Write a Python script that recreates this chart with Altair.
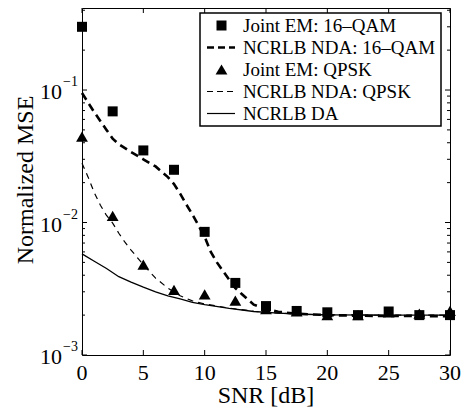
import altair as alt
import pandas as pd

FONT = "Liberation Serif, Times New Roman, serif"

# ---- data ----
snr_markers = [0, 2.5, 5, 7.5, 10, 12.5, 15, 17.5, 20, 22.5, 25, 27.5, 30]
em_16qam = [0.30, 0.069, 0.035, 0.025, 0.0085, 0.0035, 0.00234, 0.00215, 0.0021, 0.002, 0.00213, 0.002, 0.002]
em_qpsk = [0.0445, 0.0112, 0.0048, 0.0031, 0.00287, 0.00257, 0.00222, 0.00213, 0.002, 0.002, 0.0021, 0.00205, 0.00215]

snr_nda16 = [0, 1, 2, 2.5, 3, 4, 5, 6, 7, 7.5, 8, 8.5, 9, 9.5, 10, 10.5, 11, 11.5, 12, 12.5, 13, 14, 15, 16, 17.5, 20, 22.5, 25, 27.5, 30]
nda_16qam = [0.095, 0.068, 0.050, 0.043, 0.039, 0.034, 0.030, 0.0265, 0.022, 0.0195, 0.0165, 0.0137, 0.0115, 0.0095, 0.0078,
             0.0060, 0.0050, 0.0043, 0.0037, 0.0032, 0.0029, 0.0024, 0.00222, 0.00212, 0.00205, 0.0020, 0.00198, 0.00197, 0.00197, 0.00196]

snr_ndaq = [0, 0.5, 1, 1.5, 2, 2.5, 3, 3.5, 4, 5, 6, 7, 8, 9, 10, 12, 14, 16, 18, 20, 25, 30]
nda_qpsk = [0.028, 0.022, 0.0168, 0.0135, 0.0113, 0.0099, 0.0083, 0.0071, 0.0062, 0.0048, 0.0038, 0.0032, 0.0028, 0.00256,
            0.00243, 0.00226, 0.00214, 0.00207, 0.00203, 0.00201, 0.002, 0.002]

snr_da = [0, 1, 2, 3, 4, 5, 6, 7, 8, 9, 10, 12, 14, 16, 18, 20, 25, 30]
da = [0.0058, 0.0051, 0.0045, 0.0039, 0.00355, 0.00325, 0.0030, 0.0028, 0.00265, 0.0025, 0.0024, 0.00225, 0.00213,
      0.00207, 0.00203, 0.00201, 0.0020, 0.0020]

x_ticks = [0, 5, 10, 15, 20, 25, 30]
x_tick_labels = ["0", "5", "10", "15", "20", "25", "30"]
y_major = [0.001, 0.01, 0.1]
y_exp = ["\u22123", "\u22122", "\u22121"]
y_minor = [2e-3, 3e-3, 4e-3, 5e-3, 6e-3, 7e-3, 8e-3, 9e-3,
           2e-2, 3e-2, 4e-2, 5e-2, 6e-2, 7e-2, 8e-2, 9e-2,
           2e-1, 3e-1, 4e-1]

legend_labels = ["Joint EM: 16\u2013QAM", "NCRLB NDA: 16\u2013QAM", "Joint EM: QPSK", "NCRLB NDA: QPSK", "NCRLB DA"]

W, H = 368, 347
xs = alt.Scale(domain=[0, 30], nice=False)
ys = alt.Scale(type="log", domain=[0.001, 0.416], nice=False)

def X(f="x"):
    return alt.X(f"{f}:Q", scale=xs, axis=None)

def Y(f="y"):
    return alt.Y(f"{f}:Q", scale=ys, axis=None)

df_m16 = pd.DataFrame({"x": snr_markers, "y": em_16qam})
df_mq = pd.DataFrame({"x": snr_markers, "y": em_qpsk})
df_n16 = pd.DataFrame({"x": snr_nda16, "y": nda_16qam})
df_nq = pd.DataFrame({"x": snr_ndaq, "y": nda_qpsk})
df_da = pd.DataFrame({"x": snr_da, "y": da})

line_n16 = alt.Chart(df_n16).mark_line(color="black", strokeWidth=2.6, strokeDash=[8, 5]).encode(x=X(), y=Y())
line_nq = alt.Chart(df_nq).mark_line(color="black", strokeWidth=1.2, strokeDash=[6, 5]).encode(x=X(), y=Y())
line_da = alt.Chart(df_da).mark_line(color="black", strokeWidth=1.3).encode(x=X(), y=Y())

pts_16 = alt.Chart(df_m16).mark_point(shape="square", filled=True, color="black", size=100, opacity=1).encode(x=X(), y=Y())
pts_q = alt.Chart(df_mq).mark_point(shape="triangle-up", filled=True, color="black", size=140, opacity=1).encode(x=X(), y=Y())

# inside ticks
df_major = pd.DataFrame({"y": y_major, "e": y_exp})
df_minor = pd.DataFrame({"y": y_minor})
df_xt = pd.DataFrame({"x": x_ticks, "t": x_tick_labels})
ticks = [
    alt.Chart(df_major).mark_rule(color="black", strokeWidth=1).encode(y=Y(), x=alt.value(0), x2=alt.value(5)),
    alt.Chart(df_major).mark_rule(color="black", strokeWidth=1).encode(y=Y(), x=alt.value(W), x2=alt.value(W - 5)),
    alt.Chart(df_minor).mark_rule(color="black", strokeWidth=1).encode(y=Y(), x=alt.value(0), x2=alt.value(3)),
    alt.Chart(df_minor).mark_rule(color="black", strokeWidth=1).encode(y=Y(), x=alt.value(W), x2=alt.value(W - 3)),
    alt.Chart(df_xt).mark_rule(color="black", strokeWidth=1).encode(x=X(), y=alt.value(H), y2=alt.value(H - 5)),
    alt.Chart(df_xt).mark_rule(color="black", strokeWidth=1).encode(x=X(), y=alt.value(0), y2=alt.value(5)),
]

# tick labels
xlab = alt.Chart(df_xt).mark_text(font=FONT, fontSize=22, align="center", baseline="alphabetic",
                                  color="black").encode(x=X(), y=alt.value(H + 25), text="t:N")
lab10 = alt.Chart(df_major).mark_text(font=FONT, fontSize=22, align="right", baseline="middle", dy=2,
                                      color="black").encode(y=Y(), x=alt.value(-20), text=alt.value("10"))
labexp = alt.Chart(df_major).mark_text(font=FONT, fontSize=14, align="left", baseline="alphabetic", dy=-4,
                                       color="black").encode(y=Y(), x=alt.value(-19), text="e:N")

one = pd.DataFrame({"a": [0]})
ytitle = alt.Chart(one).mark_text(font=FONT, fontSize=24, angle=270, align="center", baseline="alphabetic",
                                  color="black").encode(x=alt.value(-49), y=alt.value(172),
                                                        text=alt.value("Normalized MSE"))
xtitle = alt.Chart(one).mark_text(font=FONT, fontSize=24, align="center", baseline="alphabetic",
                                  color="black").encode(x=alt.value(W / 2), y=alt.value(395),
                                                        text=alt.value("SNR [dB]"))

# legend
LX0, LX1, LY0, LY1 = 118, 359, 5, 118
rows = [17.5, 39.5, 61.5, 83.5, 105.5]
leg = [alt.Chart(one).mark_rect(fill="white", stroke="black", strokeWidth=1.5).encode(
    x=alt.value(LX0), x2=alt.value(LX1), y=alt.value(LY0), y2=alt.value(LY1))]
leg.append(alt.Chart(one).mark_point(shape="square", filled=True, color="black", size=100, opacity=1).encode(
    x=alt.value(139.5), y=alt.value(rows[0])))
leg.append(alt.Chart(one).mark_rule(color="black", strokeWidth=2.6, strokeDash=[7, 4]).encode(
    x=alt.value(125), x2=alt.value(153), y=alt.value(rows[1])))
leg.append(alt.Chart(one).mark_point(shape="triangle-up", filled=True, color="black", size=140, opacity=1).encode(
    x=alt.value(139.5), y=alt.value(rows[2])))
leg.append(alt.Chart(one).mark_rule(color="black", strokeWidth=1.2, strokeDash=[6, 4]).encode(
    x=alt.value(125), x2=alt.value(153), y=alt.value(rows[3])))
leg.append(alt.Chart(one).mark_rule(color="black", strokeWidth=1.2).encode(
    x=alt.value(125), x2=alt.value(153), y=alt.value(rows[4])))
for r, t in zip(rows, legend_labels):
    leg.append(alt.Chart(one).mark_text(font=FONT, fontSize=19, align="left", baseline="middle", color="black").encode(
        x=alt.value(161), y=alt.value(r), text=alt.value(t)))

chart = alt.layer(
    line_n16, line_nq, line_da, pts_16, pts_q, *ticks, xlab, lab10, labexp, ytitle, xtitle, *leg
).properties(
    width=W, height=H,
    autosize=alt.AutoSizeParams(type="none"),
    padding={"left": 74, "top": 0, "right": 13, "bottom": 55},
    background="white",
).configure_view(stroke="black", strokeWidth=1)

chart.save("out.html", embed_options={"renderer": "svg", "actions": False})
